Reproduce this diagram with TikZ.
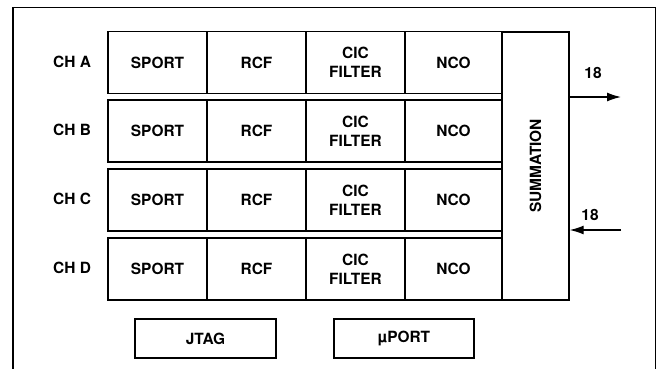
\documentclass[tikz,border=0pt]{standalone}
\usepackage{fontspec}
\setmainfont{TeX Gyre Heros}
\usepackage{tikz}
\usetikzlibrary{arrows.meta}

\begin{document}
\begin{tikzpicture}[x=1bp,y=-1bp,
            >={Latex[length=14bp,width=9bp]},
            blk/.style={draw, line width=1.4bp, inner sep=0pt, minimum height=62bp, align=center,
                font=\fontsize{15.5}{19}\selectfont\bfseries},
            lbl/.style={inner sep=0pt, font=\fontsize{15.5}{19}\selectfont\bfseries}]
        \useasboundingbox (0,0) rectangle (658,368);
        \draw[line width=1.4bp] (13,7.5) rectangle (655.5,380);

        % the four channels
        \foreach \ch/\yc in {A/62.5, B/131, C/200, D/269} {
            \node[lbl] (ch\ch) at (72,\yc-1) {CH \ch};
            \node[blk, minimum width=99bp] (sport\ch) at (157.5,\yc) {SPORT};
            \node[blk, minimum width=99bp] (rcf\ch) at (256.5,\yc) {\raisebox{-3bp}{RCF}};
            \node[blk, minimum width=99bp] (cic\ch) at (355.5,\yc) {CIC\\FILTER};
            \node[blk, minimum width=97bp] (nco\ch) at (453.5,\yc) {NCO};
        }

        \node[blk, minimum width=67bp, minimum height=268bp] (summ) at (535.5,166) {};
        \node[lbl, rotate=90] at (summ.center) {SUMMATION};

        \coordinate (out) at (621,97);
        \coordinate (in) at (621,230);
        \draw[line width=1.4bp,->] (summ.east |- out) -- (out);
        \draw[line width=1.4bp,->] (in) -- (summ.east |- in);
        \node[lbl] (nout) at (593,73) {18};
        \node[lbl] (nin) at (590,215) {18};

        \node[blk, minimum width=141bp, minimum height=39bp] (jtag) at (205.5,338.5) {JTAG};
        \node[blk, minimum width=140bp, minimum height=39bp] (uport) at (404,338.5) {µPORT};
    \end{tikzpicture}
\end{document}
